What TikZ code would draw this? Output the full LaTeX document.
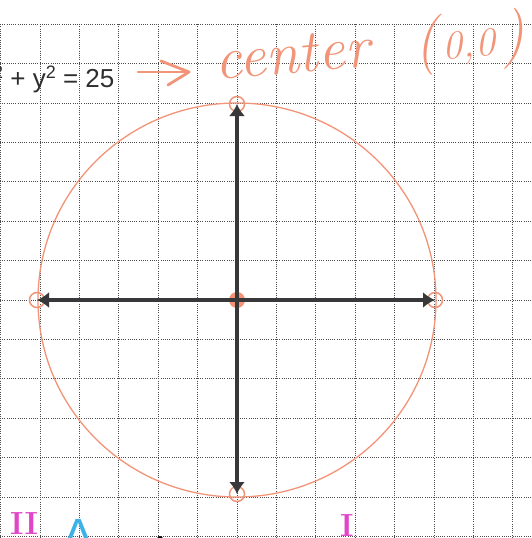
\documentclass[tikz,border=0pt]{standalone}
\usepackage{fontspec}
\newfontfamily\eqfont{Liberation Sans}
\usetikzlibrary{arrows.meta}
\definecolor{sketch}{HTML}{F29478}
\definecolor{axisgray}{HTML}{38383A}
\definecolor{pinkink}{HTML}{E046C8}
\definecolor{blueink}{HTML}{3CB2E8}
\tikzset{
  gridline/.style={dash pattern=on 1pt off 1.2pt, line width=1pt, black!70},
  axisline/.style={line width=4pt, axisgray, {Latex[length=12pt,width=16pt]}-{Latex[length=12pt,width=16pt]}},
  ink/.style={sketch, line width=1.3pt, line cap=round, line join=round},
  endmark/.style={draw=sketch, line width=1.5pt, circle, minimum size=15pt, inner sep=0pt},
  handtext/.style={text=sketch, font=\fontsize{60}{60}\selectfont\itshape, inner sep=0pt},
  numeral/.style={text=pinkink, font=\fontsize{32}{32}\selectfont\bfseries, inner sep=0pt}
}
\begin{document}
\begin{tikzpicture}[x=1pt,y=-1pt]
\path[use as bounding box] (0,0) rectangle (532,538);
\clip (0,0) rectangle (532,538);
\fill[white] (0,0) rectangle (532,538);
% graph paper
\foreach \i in {-6,...,7} \draw[gridline] ({237+39.4*\i},24.2) -- ({237+39.4*\i},538);
\foreach \j in {-7,...,6} \draw[gridline] (0,{300+39.4*\j}) -- (532,{300+39.4*\j});
% circle
\node (O) at (237,300) {};
\draw[ink] (237,300) ellipse [x radius=199, y radius=197];
% endpoint marks
\node[endmark] (L) at (37,300) {};
\node[endmark] (R) at (435,300) {};
\node[endmark] (T) at (237,104) {};
\node[endmark] (B) at (237,494) {};
\fill[sketch] (237,300) circle (8);
% axes
\draw[axisline] (L.center) -- (R.center);
\draw[axisline] (T.center) -- (B.center);
% equation
\node[anchor=base west, inner sep=0pt, font=\eqfont\fontsize{26}{26}\selectfont, text=black!82] (eq) at (-20,87)
  {x\raisebox{0.34em}{\fontsize{18}{18}\selectfont 2} + y\raisebox{0.34em}{\fontsize{18}{18}\selectfont 2} = 25};
% handwritten note
\node[handtext, anchor=base west, rotate=5] (ctr) at (216,80) {center};
\node[handtext, anchor=base west, rotate=5] (pt) at (415,62)
  {(\hspace{4pt}{\fontsize{40}{40}\selectfont 0,\hspace{2pt}0}\hspace{6pt})};
\coordinate (arrS) at (138,72);
\coordinate (arrE) at (189,72);
\draw[ink, line width=2.8pt] (arrS) -- (arrE);
\draw[ink, line width=2.8pt] (161,61) -- (arrE) -- (168,85);
% quadrant marks
\node[numeral, anchor=base west] (q2) at (10,534) {II};
\node[numeral, anchor=base west] (q1) at (340,536) {I};
\node[text=blueink, font=\eqfont\fontsize{48}{48}\selectfont, inner sep=0pt, anchor=base] (qa) at (79,552) {A};
\fill[black] (160,539) circle (3);
\end{tikzpicture}
\end{document}
